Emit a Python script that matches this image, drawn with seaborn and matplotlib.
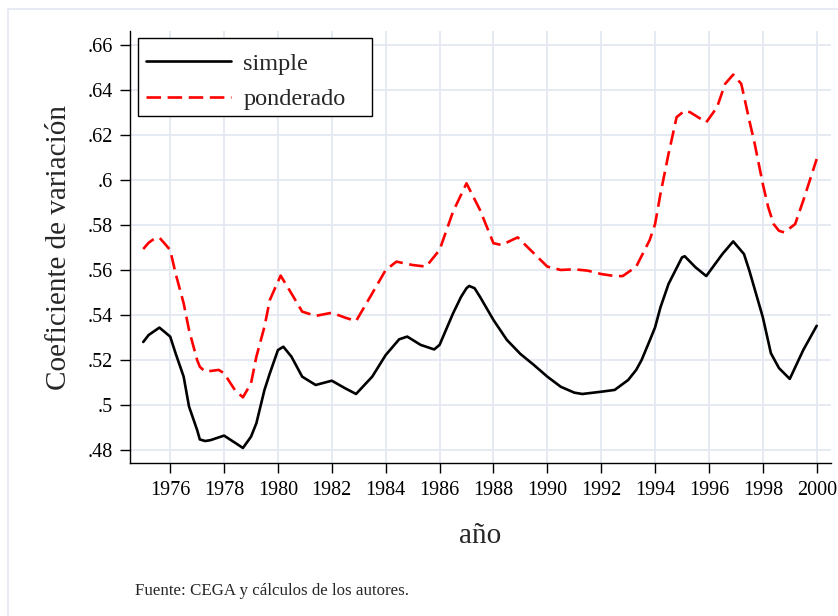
import pandas as pd
import matplotlib.pyplot as plt
import matplotlib.ticker as mticker
from matplotlib.patches import Rectangle
from matplotlib.lines import Line2D
import seaborn as sns

# values (year, coefficient)
simple_year = [1975.0, 1975.2, 1975.6, 1976.0, 1976.2, 1976.5, 1976.7, 1977.0, 1977.1, 1977.3,
               1977.5, 1978.0, 1978.5, 1978.7, 1979.0, 1979.2, 1979.5, 1979.7, 1980.0, 1980.2,
               1980.5, 1980.9, 1981.4, 1982.0, 1982.5, 1982.9, 1983.5, 1984.0, 1984.5, 1984.8,
               1985.3, 1985.8, 1986.0, 1986.5, 1986.8, 1987.0, 1987.1, 1987.3, 1987.5, 1988.0,
               1988.5, 1989.0, 1989.5, 1990.0, 1990.5, 1991.0, 1991.3, 1992.0, 1992.5, 1993.0,
               1993.3, 1993.5, 1993.8, 1994.0, 1994.2, 1994.5, 1995.0, 1995.1, 1995.5, 1995.9,
               1996.5, 1996.9, 1997.3, 1997.5, 1998.0, 1998.3, 1998.6, 1999.0, 1999.5, 2000.0]
simple_val = [0.528, 0.5311, 0.5344, 0.5304, 0.523, 0.5126, 0.4993, 0.4889, 0.4847, 0.484,
              0.4844, 0.4864, 0.4825, 0.4809, 0.4859, 0.4919, 0.5067, 0.5141, 0.5244, 0.5259,
              0.5215, 0.5126, 0.5089, 0.5108, 0.5074, 0.5049, 0.5126, 0.5222, 0.5292, 0.5304,
              0.5267, 0.5247, 0.5267, 0.5407, 0.5481, 0.5519, 0.5529, 0.5519, 0.5481, 0.5378,
              0.5289, 0.5227, 0.5178, 0.5126, 0.5081, 0.5055, 0.5049, 0.5059, 0.5067, 0.5111,
              0.5156, 0.52, 0.5286, 0.5345, 0.5434, 0.5538, 0.5656, 0.5661, 0.5612, 0.5573,
              0.5671, 0.5727, 0.5671, 0.5597, 0.539, 0.523, 0.5164, 0.5116, 0.5244, 0.5352]

pond_year = [1975.0, 1975.2, 1975.4, 1975.6, 1976.0, 1976.2, 1976.5, 1976.7, 1977.0, 1977.1,
             1977.3, 1977.8, 1978.0, 1978.4, 1978.7, 1979.0, 1979.2, 1979.5, 1979.7, 1980.0,
             1980.1, 1980.5, 1980.9, 1981.4, 1982.0, 1982.5, 1982.9, 1983.5, 1984.0, 1984.4,
             1985.0, 1985.5, 1986.0, 1986.5, 1987.0, 1987.5, 1988.0, 1988.3, 1988.9, 1989.5,
             1990.0, 1990.5, 1991.0, 1991.5, 1992.0, 1992.5, 1992.8, 1993.3, 1993.8, 1994.0,
             1994.2, 1994.5, 1994.8, 1995.1, 1995.3, 1995.5, 1995.9, 1996.3, 1996.6, 1996.9,
             1997.2, 1997.5, 1997.7, 1998.0, 1998.2, 1998.4, 1998.6, 1998.8, 1999.2, 1999.5,
             2000.0]
pond_val = [0.5693, 0.5721, 0.5738, 0.5744, 0.5689, 0.5585, 0.5452, 0.5333, 0.52, 0.517,
            0.5148, 0.5156, 0.5141, 0.5067, 0.5034, 0.5096, 0.5215, 0.5348, 0.5467, 0.5548,
            0.5575, 0.5496, 0.5415, 0.5396, 0.541, 0.5388, 0.5373, 0.5496, 0.56, 0.5637,
            0.5622, 0.5615, 0.5689, 0.5859, 0.5985, 0.5867, 0.5719, 0.5711, 0.5745, 0.5674,
            0.5615, 0.56, 0.5603, 0.5597, 0.5582, 0.5573, 0.5573, 0.5615, 0.5733, 0.5804,
            0.5938, 0.6116, 0.6279, 0.6308, 0.6301, 0.6286, 0.6256, 0.6323, 0.6427, 0.6468,
            0.6427, 0.6264, 0.616, 0.5982, 0.5879, 0.5804, 0.5774, 0.5767, 0.5804, 0.5908,
            0.6093]

x_ticks = list(range(1976, 2001, 2))
y_ticks = [0.48, 0.50, 0.52, 0.54, 0.56, 0.58, 0.60, 0.62, 0.64, 0.66]

sns.set_style('white')
plt.rcParams['font.family'] = ['Liberation Serif', 'DejaVu Serif']

fig = plt.figure(figsize=(8.38, 6.16), dpi=100)
ax = fig.add_axes([0.1555, 0.2479, 0.8358, 0.7018])

grid_col = '#e4e8f2'
ax.set_axisbelow(True)
ax.grid(True, color=grid_col, linewidth=1.3)

df_s = pd.DataFrame({'año': simple_year, 'cv': simple_val})
df_p = pd.DataFrame({'año': pond_year, 'cv': pond_val})
sns.lineplot(data=df_s, x='año', y='cv', color='black', linewidth=1.9,
             estimator=None, ax=ax, legend=False)
sns.lineplot(data=df_p, x='año', y='cv', color='red', linewidth=1.9,
             estimator=None, ax=ax, legend=False)
ax.lines[-1].set_dashes((5.5, 2.5))

ax.set_xlim(1974.52, 2000.52)
ax.set_ylim(0.4741, 0.6662)
ax.set_xticks(x_ticks)
ax.set_yticks(y_ticks)
ax.yaxis.set_major_formatter(mticker.FuncFormatter(
    lambda v, p: ('%.2f' % v).rstrip('0').lstrip('0')))

for s in ['top', 'right']:
    ax.spines[s].set_visible(False)
for s in ['left', 'bottom']:
    ax.spines[s].set_color('black')
    ax.spines[s].set_linewidth(1.0)

ax.tick_params(axis='both', which='major', direction='out', length=7.5, width=1.0,
               color='black', labelsize=14.5, labelcolor='black', pad=5,
               bottom=True, left=True)

ax.set_xlabel('año', fontsize=21, labelpad=17)
ax.set_ylabel('Coeficiente de variación', fontsize=21, labelpad=11)

# legend, with a Stata-like box drawn around it
box = Rectangle((138 / 838, 1 - 116 / 616), 234 / 838, 78 / 616,
                transform=fig.transFigure, fill=True, facecolor='white',
                edgecolor='black', linewidth=1.0, zorder=4, clip_on=False)
ax.add_patch(box)
handles = [Line2D([], [], color='black', linewidth=1.9),
           Line2D([], [], color='red', linewidth=1.9, dashes=(5.5, 2.5))]
leg = ax.legend(handles, ['simple', 'ponderado'], loc='upper left',
                bbox_to_anchor=(0.0155, 0.961), fontsize=17.5, frameon=False,
                handlelength=3.5, borderpad=0.2, labelspacing=0.55,
                handletextpad=0.5, borderaxespad=0)
leg.set_zorder(5)

fig.text(135 / 838, 1 - 595 / 616, 'Fuente: CEGA y cálculos de los autores.',
         fontsize=12.2, ha='left', va='baseline')

fig.patches.append(Rectangle((8 / 838, -0.05), 1.2, 1 - 9 / 616 + 0.05,
                             transform=fig.transFigure, fill=False,
                             edgecolor='#e4e8f2', linewidth=1.2))

fig.savefig('out.png', dpi=100)
